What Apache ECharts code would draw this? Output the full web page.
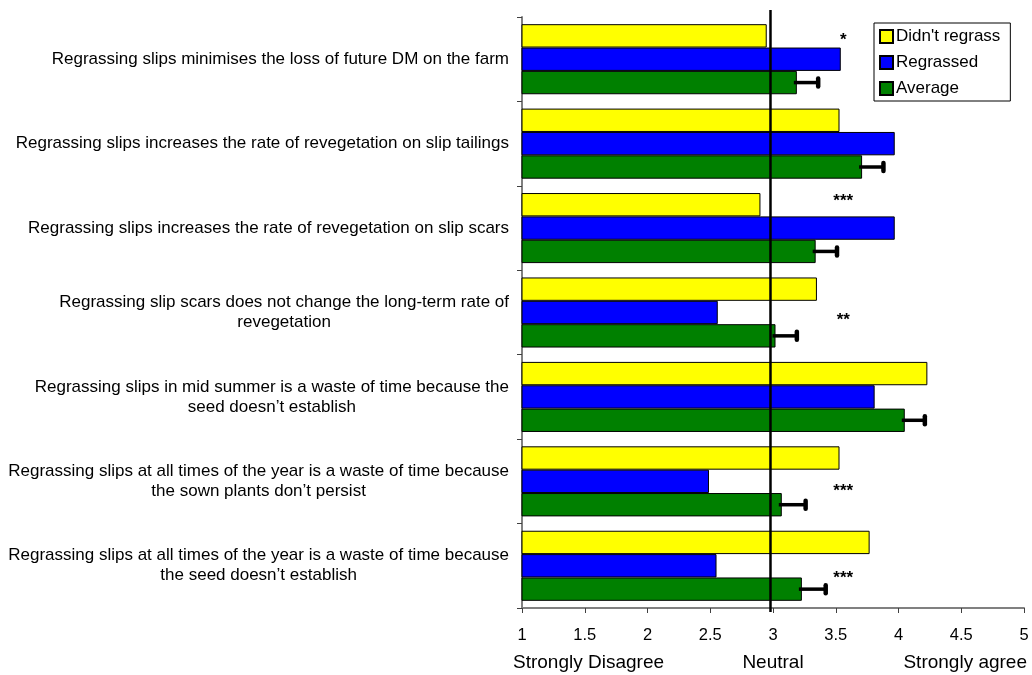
<!DOCTYPE html>
<html>
<head>
<meta charset="utf-8">
<script src="https://cdn.jsdelivr.net/npm/echarts@6/dist/echarts.min.js"></script>
<style>
  html, body { margin: 0; padding: 0; background: #fff; }
  #chart { width: 1032px; height: 675px; }
</style>
</head>
<body>
<div id="chart"></div>
<script>
// Survey statements (top to bottom)
const statements = [
  'Regrassing slips minimises the loss of future DM on the farm',
  'Regrassing slips increases the rate of revegetation on slip tailings',
  'Regrassing slips increases the rate of revegetation on slip scars',
  'Regrassing slip scars does not change the long-term rate of\nrevegetation',
  'Regrassing slips in mid summer is a waste of time because the\nseed doesn\u2019t establish',
  'Regrassing slips at all times of the year is a waste of time because\nthe sown plants don\u2019t persist',
  'Regrassing slips at all times of the year is a waste of time because\nthe seed doesn\u2019t establish'
];

// Mean scores on the 1-5 agreement scale
const didntRegrass = [2.95, 3.53, 2.90, 3.35, 4.23, 3.53, 3.77];
const regrassed    = [3.54, 3.97, 3.97, 2.56, 3.81, 2.49, 2.55];
const average      = [3.19, 3.71, 3.34, 3.02, 4.05, 3.07, 3.23];
const averageErr   = [0.17, 0.17, 0.17, 0.17, 0.16, 0.19, 0.19];

// Significance of the difference between groups
const significance = ['*', '', '***', '**', '', '***', '***'];

// Scale anchors under the axis
const scaleLabels = ['Strongly Disagree', 'Neutral', 'Strongly agree'];
const neutralValue = 2.98;

const seriesNames = ["Didn't regrass", 'Regrassed', 'Average'];

// ---- drawing ----
const FONT = '"Liberation Sans", Arial, Helvetica, sans-serif';
const GAP_RATIO = 0.17;            // barCategoryGap
const STAR_X = 3.56;               // horizontal spot of the significance marks
const starDy = [-19, 0, -27, 8, 0, 10, 13]; // vertical nudge from the category centre

const chart = echarts.init(document.getElementById('chart'), null, { renderer: 'canvas' });

function barWidthOf(api) {
  const band = api.size([0, 1])[1];
  return band * (1 - GAP_RATIO) / 3;
}

function renderErrorBar(params, api) {
  const idx = api.value(1);
  const v = api.value(0);
  const e = api.value(2);
  const bw = barWidthOf(api);
  const p0 = api.coord([v, idx]);
  const p1 = api.coord([v + e, idx]);
  const y = p0[1] + bw;  // centre of the third bar in the group
  return {
    type: 'group',
    children: [
      { type: 'line', shape: { x1: p0[0] - 3, y1: y, x2: p1[0], y2: y },
        style: { stroke: '#000', lineWidth: 3.5 } },
      { type: 'line', shape: { x1: p1[0], y1: y - 4, x2: p1[0], y2: y + 4 },
        style: { stroke: '#000', lineWidth: 4.5, lineCap: 'round' } }
    ]
  };
}

function renderNeutral(params, api) {
  const cs = params.coordSys;
  const x = api.coord([api.value(0), 0])[0];
  return {
    type: 'line',
    shape: { x1: x, y1: cs.y - 7, x2: x, y2: cs.y + cs.height + 4 },
    style: { stroke: '#000', lineWidth: 2.5 }
  };
}

function renderStar(params, api) {
  const idx = api.value(1);
  const p = api.coord([STAR_X, idx]);
  const text = significance[idx];
  if (!text) return null;
  return {
    type: 'text',
    x: p[0], y: p[1] + starDy[idx],
    style: { text: text, fill: '#000', font: 'bold 17px ' + FONT, align: 'center', verticalAlign: 'middle' }
  };
}

const barBase = {
  type: 'bar',
  barGap: '0%',
  barCategoryGap: (GAP_RATIO * 100) + '%'
};

const option = {
  animation: false,
  backgroundColor: '#fff',
  textStyle: { fontFamily: FONT },
  grid: { left: 522, right: 8, top: 17, bottom: 67 },
  legend: {
    orient: 'vertical',
    left: 874, top: 23,
    padding: [5, 10, 4, 5],
    itemWidth: 13, itemHeight: 13, itemGap: 9,
    borderColor: '#000', borderWidth: 1,
    icon: 'rect',
    textStyle: { fontSize: 17, color: '#000', fontFamily: FONT, padding: [0, 0, 0, -2] },
    data: seriesNames
  },
  xAxis: {
    type: 'value',
    min: 1, max: 5, interval: 0.5,
    axisLine: { show: true, lineStyle: { color: '#808080', width: 2 } },
    axisTick: { show: true, length: 5, lineStyle: { color: '#404040', width: 1 } },
    splitLine: { show: false },
    axisLabel: { fontSize: 16.5, color: '#000', margin: 19, fontFamily: FONT }
  },
  yAxis: {
    type: 'category',
    inverse: true,
    data: statements,
    axisLine: { show: true, lineStyle: { color: '#808080', width: 2 } },
    axisTick: { show: true, length: 5, lineStyle: { color: '#404040', width: 1 } },
    axisLabel: {
      margin: 13,
      color: '#000',
      formatter: function (v) {
        return v.split('\n').map(function (l) { return '{c|' + l + '}'; }).join('\n');
      },
      rich: { c: { align: 'center', fontSize: 17, lineHeight: 20, color: '#000', fontFamily: FONT } }
    }
  },
  series: [
    Object.assign({}, barBase, { name: seriesNames[0], data: didntRegrass,
      itemStyle: { color: '#FFFF00', borderColor: '#000', borderWidth: 1 } }),
    Object.assign({}, barBase, { name: seriesNames[1], data: regrassed,
      itemStyle: { color: '#0000FF', borderColor: '#000', borderWidth: 1 } }),
    Object.assign({}, barBase, { name: seriesNames[2], data: average,
      itemStyle: { color: '#008000', borderColor: '#000', borderWidth: 1 } }),
    {
      type: 'custom',
      name: 'neutral',
      z: 4,
      silent: true,
      renderItem: renderNeutral,
      encode: { x: 0 },
      data: [[neutralValue]]
    },
    {
      type: 'custom',
      name: 'error',
      z: 5,
      renderItem: renderErrorBar,
      encode: { x: 0, y: 1 },
      data: average.map(function (v, i) { return [v, i, averageErr[i]]; })
    },
    {
      type: 'custom',
      name: 'significance',
      z: 6,
      renderItem: renderStar,
      encode: { x: 0, y: 1 },
      data: significance.map(function (s, i) { return [STAR_X, i]; })
    }
  ],
  graphic: [
    { type: 'text', x: 513, y: 663, style: { text: scaleLabels[0], font: '19px ' + FONT, fill: '#000', align: 'left', verticalAlign: 'middle' } },
    { type: 'text', x: 773, y: 663, style: { text: scaleLabels[1], font: '19px ' + FONT, fill: '#000', align: 'center', verticalAlign: 'middle' } },
    { type: 'text', x: 1027, y: 663, style: { text: scaleLabels[2], font: '19px ' + FONT, fill: '#000', align: 'right', verticalAlign: 'middle' } }
  ]
};

chart.setOption(option);
</script>
</body>
</html>
